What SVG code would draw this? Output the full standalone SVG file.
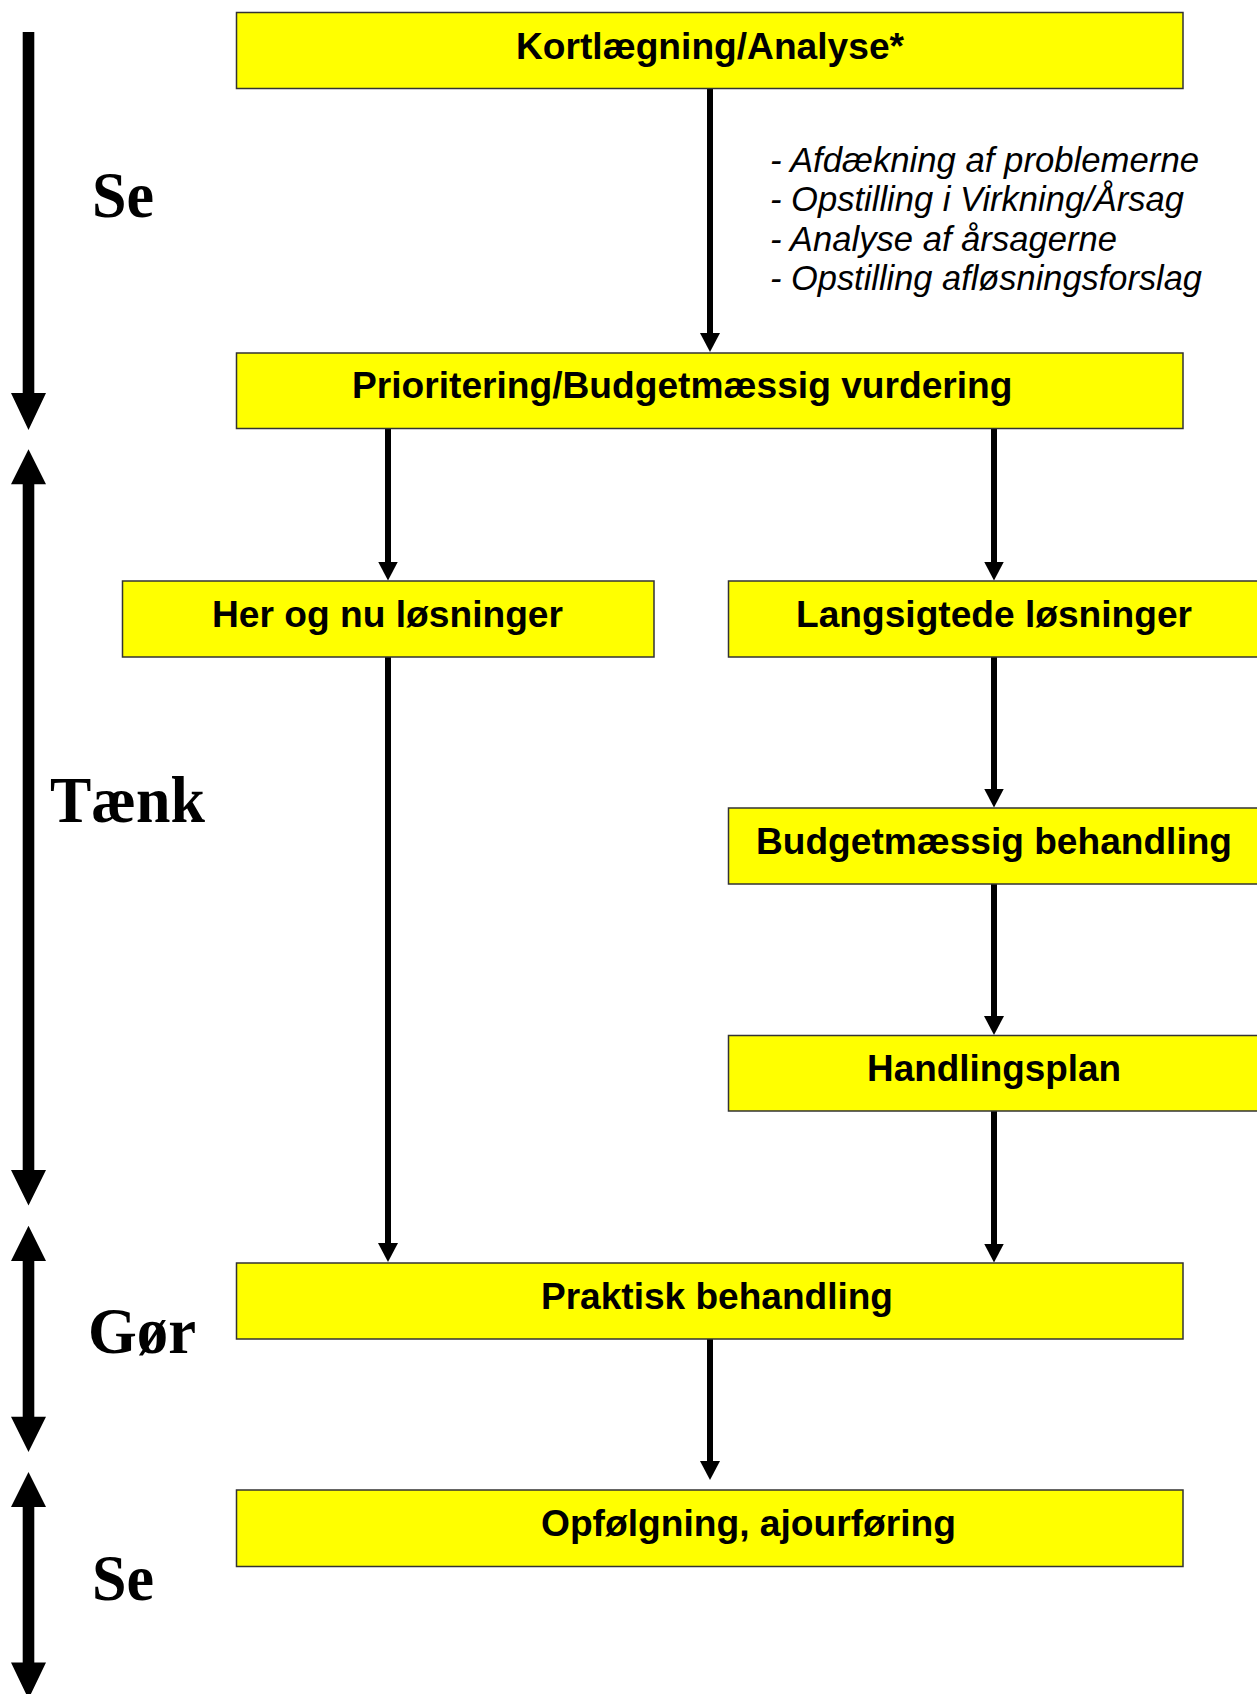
<svg xmlns="http://www.w3.org/2000/svg" width="1257" height="1694" viewBox="0 0 1257 1694">
<style>
.box{fill:#ffff00;stroke:#333333;stroke-width:1.5}
.lbl{font-family:"Liberation Sans",Arial,sans-serif;font-weight:bold;font-size:37px;fill:#000}
.note{font-family:"Liberation Sans",Arial,sans-serif;font-style:italic;font-size:34.5px;fill:#000}
.phase{font-family:"Liberation Serif","Times New Roman",serif;font-weight:bold;font-size:66px;fill:#000}
.conn{stroke:#000;stroke-width:6;fill:none;marker-end:url(#ah)}
.big{fill:#000}
</style>
<defs>
<marker id="ah" viewBox="0 0 19 20" markerWidth="19" markerHeight="20" markerUnits="userSpaceOnUse" refX="1" refY="10" orient="auto">
<path d="M0,0 L19,10 L0,20 z" fill="#000"/>
</marker>
</defs>
<rect width="1257" height="1694" fill="#fff"/>

<g id="phase-arrows">
<path class="big" d="M22.7,32 H34.3 V393 H46 L28.5,430 L11,393 H22.7 Z"/>
<path class="big" d="M28.5,449.3 L46,484.3 H34.3 V1170 H46 L28.5,1205.6 L11,1170 H22.7 V484.3 H11 Z"/>
<path class="big" d="M28.5,1225.7 L46,1261 H34.3 V1416.7 H46 L28.5,1452 L11,1416.7 H22.7 V1261 H11 Z"/>
<path class="big" d="M28.5,1472 L46,1507 H34.3 V1662.5 H46 L28.5,1699 L11,1662.5 H22.7 V1507 H11 Z"/>
</g>

<g id="phase-labels">
<text class="phase" x="92" y="217" textLength="62" lengthAdjust="spacingAndGlyphs">Se</text>
<text class="phase" x="50" y="822" textLength="155" lengthAdjust="spacingAndGlyphs">Tænk</text>
<text class="phase" x="88" y="1353" textLength="108" lengthAdjust="spacingAndGlyphs">Gør</text>
<text class="phase" x="92" y="1600" textLength="62" lengthAdjust="spacingAndGlyphs">Se</text>
</g>

<g id="connectors">
<line class="conn" x1="710" y1="89" x2="710" y2="334"/>
<line class="conn" x1="388" y1="429" x2="388" y2="562.5"/>
<line class="conn" x1="994" y1="429" x2="994" y2="562.5"/>
<line class="conn" x1="994" y1="657" x2="994" y2="789.5"/>
<line class="conn" x1="994" y1="884" x2="994" y2="1017"/>
<line class="conn" x1="994" y1="1111" x2="994" y2="1244.5"/>
<line class="conn" x1="388" y1="657" x2="388" y2="1244"/>
<line class="conn" x1="710" y1="1339" x2="710" y2="1462"/>
</g>

<g id="node-kortlaegning">
<rect class="box" x="236.5" y="12.5" width="946.5" height="76"/>
<text class="lbl" x="516" y="58.5" textLength="388" lengthAdjust="spacingAndGlyphs">Kortlægning/Analyse*</text>
</g>

<g id="note-analyse">
<text class="note" x="770" y="171.5" textLength="429" lengthAdjust="spacingAndGlyphs">- Afdækning af problemerne</text>
<text class="note" x="770" y="210.5" textLength="414" lengthAdjust="spacingAndGlyphs">- Opstilling i Virkning/Årsag</text>
<text class="note" x="770" y="250.5" textLength="347" lengthAdjust="spacingAndGlyphs">- Analyse af årsagerne</text>
<text class="note" x="770" y="290" textLength="432" lengthAdjust="spacingAndGlyphs">- Opstilling afløsningsforslag</text>
</g>

<g id="node-prioritering">
<rect class="box" x="236.5" y="353" width="946.5" height="75.5"/>
<text class="lbl" x="352" y="398.3" textLength="660.5" lengthAdjust="spacingAndGlyphs">Prioritering/Budgetmæssig vurdering</text>
</g>

<g id="node-her-og-nu">
<rect class="box" x="122.5" y="581" width="531.5" height="76"/>
<text class="lbl" x="212" y="626.7" textLength="351" lengthAdjust="spacingAndGlyphs">Her og nu løsninger</text>
</g>

<g id="node-langsigtede">
<rect class="box" x="728.5" y="581" width="540" height="76"/>
<text class="lbl" x="796" y="626.8" textLength="396" lengthAdjust="spacingAndGlyphs">Langsigtede løsninger</text>
</g>

<g id="node-budget">
<rect class="box" x="728.5" y="808" width="540" height="76"/>
<text class="lbl" x="756" y="853.6" textLength="476" lengthAdjust="spacingAndGlyphs">Budgetmæssig behandling</text>
</g>

<g id="node-handlingsplan">
<rect class="box" x="728.5" y="1035.5" width="540" height="75.5"/>
<text class="lbl" x="867" y="1080.8" textLength="254" lengthAdjust="spacingAndGlyphs">Handlingsplan</text>
</g>

<g id="node-praktisk">
<rect class="box" x="236.5" y="1263" width="946.5" height="76"/>
<text class="lbl" x="541" y="1309" textLength="352" lengthAdjust="spacingAndGlyphs">Praktisk behandling</text>
</g>

<g id="node-opfoelgning">
<rect class="box" x="236.5" y="1490" width="946.5" height="76.5"/>
<text class="lbl" x="541" y="1535.5" textLength="415" lengthAdjust="spacingAndGlyphs">Opfølgning, ajourføring</text>
</g>
</svg>
